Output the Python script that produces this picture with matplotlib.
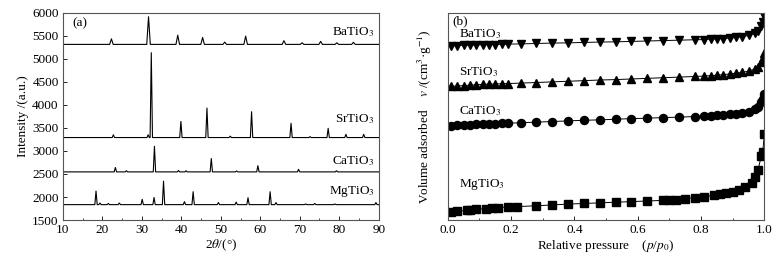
import numpy as np
import matplotlib
matplotlib.use("Agg")
import matplotlib.pyplot as plt
from matplotlib.ticker import MultipleLocator, FormatStrFormatter

plt.rcParams["font.family"] = ["Liberation Serif", "DejaVu Serif"]
plt.rcParams["mathtext.fontset"] = "stix"
plt.rcParams["font.size"] = 9.5

# (a) XRD peaks: 2theta position, peak top intensity, baseline
ba_base = 5310
ba_pos = [22.3, 31.7, 39.1, 45.4, 51.0, 56.3, 66.0, 70.6, 75.3, 79.4, 83.6]
ba_top = [5430, 5910, 5510, 5460, 5360, 5490, 5390, 5345, 5375, 5345, 5355]

sr_base = 3290
sr_pos = [22.8, 31.6, 32.4, 39.9, 46.5, 52.4, 57.8, 67.8, 72.6, 77.2, 81.7, 86.2]
sr_top = [3350, 3350, 5130, 3640, 3930, 3320, 3850, 3600, 3310, 3490, 3360, 3360]

ca_base = 2545
ca_pos = [23.3, 26.1, 33.2, 39.3, 41.2, 47.6, 54.0, 59.4, 69.7, 79.3]
ca_top = [2640, 2570, 3100, 2575, 2570, 2835, 2565, 2680, 2600, 2570]

mg_base = 1835
mg_pos = [18.4, 19.4, 21.5, 24.3, 30.1, 33.1, 35.5, 40.8, 43.0, 49.4,
          53.9, 56.9, 62.5, 64.0, 71.5, 73.8, 78.9, 89.3]
mg_top = [2130, 1870, 1860, 1870, 1950, 1990, 2345, 1900, 2115, 1880,
          1890, 1985, 2115, 1880, 1850, 1860, 1850, 1880]

# (b) N2 isotherms, relative pressure and volume (arbitrary units)
ba_p = [0.01, 0.03, 0.05, 0.07, 0.09, 0.11, 0.13, 0.15, 0.17, 0.19, 0.23, 0.28,
        0.33, 0.38, 0.43, 0.48, 0.53, 0.58, 0.63, 0.68, 0.73, 0.78, 0.81, 0.83,
        0.85, 0.87, 0.89, 0.91, 0.93, 0.95, 0.97, 0.98, 0.99, 0.995, 1.0]
ba_v = [84.0, 84.1, 84.2, 84.3, 84.4, 84.5, 84.5, 84.6, 84.7, 84.8, 84.9, 85.1,
        85.3, 85.4, 85.6, 85.8, 85.9, 86.1, 86.3, 86.5, 86.7, 86.9, 87.0, 87.2,
        87.3, 87.5, 87.7, 88.0, 88.4, 89.0, 90.0, 91.2, 93.5, 95.5, 98.5]

sr_p = [0.01, 0.03, 0.05, 0.07, 0.09, 0.11, 0.13, 0.15, 0.17, 0.19, 0.23, 0.28,
        0.33, 0.38, 0.43, 0.48, 0.53, 0.58, 0.63, 0.68, 0.73, 0.78, 0.81, 0.83,
        0.85, 0.87, 0.89, 0.91, 0.93, 0.95, 0.97, 0.98, 0.99, 0.995, 1.0]
sr_v = [64.4, 64.6, 64.8, 65.0, 65.2, 65.4, 65.5, 65.6, 65.7, 65.8, 66.0, 66.3,
        66.6, 66.9, 67.2, 67.5, 67.7, 68.0, 68.3, 68.6, 68.9, 69.2, 69.4, 69.6,
        69.8, 70.1, 70.4, 70.8, 71.2, 71.8, 72.8, 73.9, 76.3, 78.0, 80.4]

ca_p = [0.01, 0.03, 0.05, 0.07, 0.09, 0.11, 0.13, 0.15, 0.17, 0.19, 0.23, 0.28,
        0.33, 0.38, 0.43, 0.48, 0.53, 0.58, 0.63, 0.68, 0.73, 0.78, 0.81, 0.83,
        0.85, 0.87, 0.89, 0.91, 0.93, 0.95, 0.97, 0.98, 0.99, 0.995, 1.0]
ca_v = [45.4, 45.6, 45.8, 46.0, 46.2, 46.3, 46.4, 46.5, 46.6, 46.7, 46.9, 47.2,
        47.5, 47.8, 48.1, 48.3, 48.6, 48.9, 49.1, 49.4, 49.6, 49.9, 50.1, 50.3,
        50.5, 50.7, 50.9, 51.3, 51.7, 52.3, 53.3, 54.4, 56.8, 58.5, 60.8]

mg_p = [0.01, 0.03, 0.06, 0.07, 0.09, 0.12, 0.14, 0.16, 0.19, 0.22, 0.28, 0.33,
        0.38, 0.43, 0.48, 0.53, 0.58, 0.63, 0.68, 0.70, 0.72, 0.75, 0.78, 0.81,
        0.84, 0.86, 0.88, 0.90, 0.92, 0.94, 0.96, 0.97, 0.98, 0.99, 0.995, 1.0]
mg_v = [3.8, 4.2, 4.7, 4.9, 5.2, 5.5, 5.7, 6.0, 6.3, 6.5, 6.9, 7.3,
        7.7, 8.0, 8.3, 8.6, 8.9, 9.2, 9.5, 9.7, 9.9, 10.3, 10.8, 11.3,
        11.9, 12.4, 13.0, 13.6, 14.5, 15.8, 18.0, 20.9, 24.1, 30.7, 33.0, 41.3]


def xrd_line(base, pos, top, w):
    xs = [10]
    ys = [base]
    for p, h in zip(pos, top):
        xs += [p - w, p, p + w]
        ys += [base, h, base]
    xs.append(90)
    ys.append(base)
    return xs, ys


fig = plt.figure(figsize=(7.76, 2.62), dpi=100)

# panel (a)
ax1 = fig.add_axes([0.081, 0.160, 0.407, 0.792])
for base, pos, top, w in [(ba_base, ba_pos, ba_top, 0.45),
                          (sr_base, sr_pos, sr_top, 0.3),
                          (ca_base, ca_pos, ca_top, 0.3),
                          (mg_base, mg_pos, mg_top, 0.3)]:
    xs, ys = xrd_line(base, pos, top, w)
    ax1.plot(xs, ys, color="black", lw=0.8)

ax1.set_xlim(10, 90)
ax1.set_ylim(1500, 6000)
ax1.xaxis.set_major_locator(MultipleLocator(10))
ax1.xaxis.set_minor_locator(MultipleLocator(5))
ax1.yaxis.set_major_locator(MultipleLocator(500))
ax1.tick_params(direction="in", length=3, width=0.6, pad=3)
ax1.tick_params(which="minor", direction="in", length=1.8, width=0.5)
ax1.set_xlabel(r"2$\theta$/(°)", labelpad=1)
ax1.set_ylabel("Intensity /(a.u.)", labelpad=2)
ax1.text(12.5, 5760, "(a)", va="center")
ax1.text(89, 5570, r"BaTiO$_3$", ha="right", va="center")
ax1.text(89, 3690, r"SrTiO$_3$", ha="right", va="center")
ax1.text(89, 2775, r"CaTiO$_3$", ha="right", va="center")
ax1.text(89, 2115, r"MgTiO$_3$", ha="right", va="center")

# panel (b)
ax2 = fig.add_axes([0.577, 0.160, 0.408, 0.792])
ax2.plot(ba_p, ba_v, color="black", lw=0.7, marker="v", ms=6)
ax2.plot(sr_p, sr_v, color="black", lw=0.7, marker="^", ms=6)
ax2.plot(ca_p, ca_v, color="black", lw=0.7, marker="o", ms=5.8)
ax2.plot(mg_p, mg_v, color="black", lw=0.7, marker="s", ms=5.2)

ax2.set_xlim(0, 1.0)
ax2.set_ylim(0, 100)
ax2.xaxis.set_major_locator(MultipleLocator(0.2))
ax2.xaxis.set_minor_locator(MultipleLocator(0.1))
ax2.xaxis.set_major_formatter(FormatStrFormatter("%.1f"))
ax2.tick_params(axis="x", direction="in", length=3, width=0.6, pad=3)
ax2.tick_params(axis="x", which="minor", direction="in", length=1.8, width=0.5)
ax2.set_yticks([])
ax2.set_xlabel(r"Relative pressure    ($p$/$p_0$)", labelpad=1)
ax2.set_ylabel(r"Volume adsorbed    $v$ /(cm$^3$·g$^{-1}$)", labelpad=10)
ax2.text(0.016, 96, "(b)", va="center")
ax2.text(0.037, 89.5, r"BaTiO$_3$", va="center")
ax2.text(0.037, 71.5, r"SrTiO$_3$", va="center")
ax2.text(0.037, 52.5, r"CaTiO$_3$", va="center")
ax2.text(0.037, 17.1, r"MgTiO$_3$", va="center")

for ax in (ax1, ax2):
    for s in ax.spines.values():
        s.set_color("#555555")
        s.set_linewidth(0.8)

fig.savefig("out.png", dpi=100)
